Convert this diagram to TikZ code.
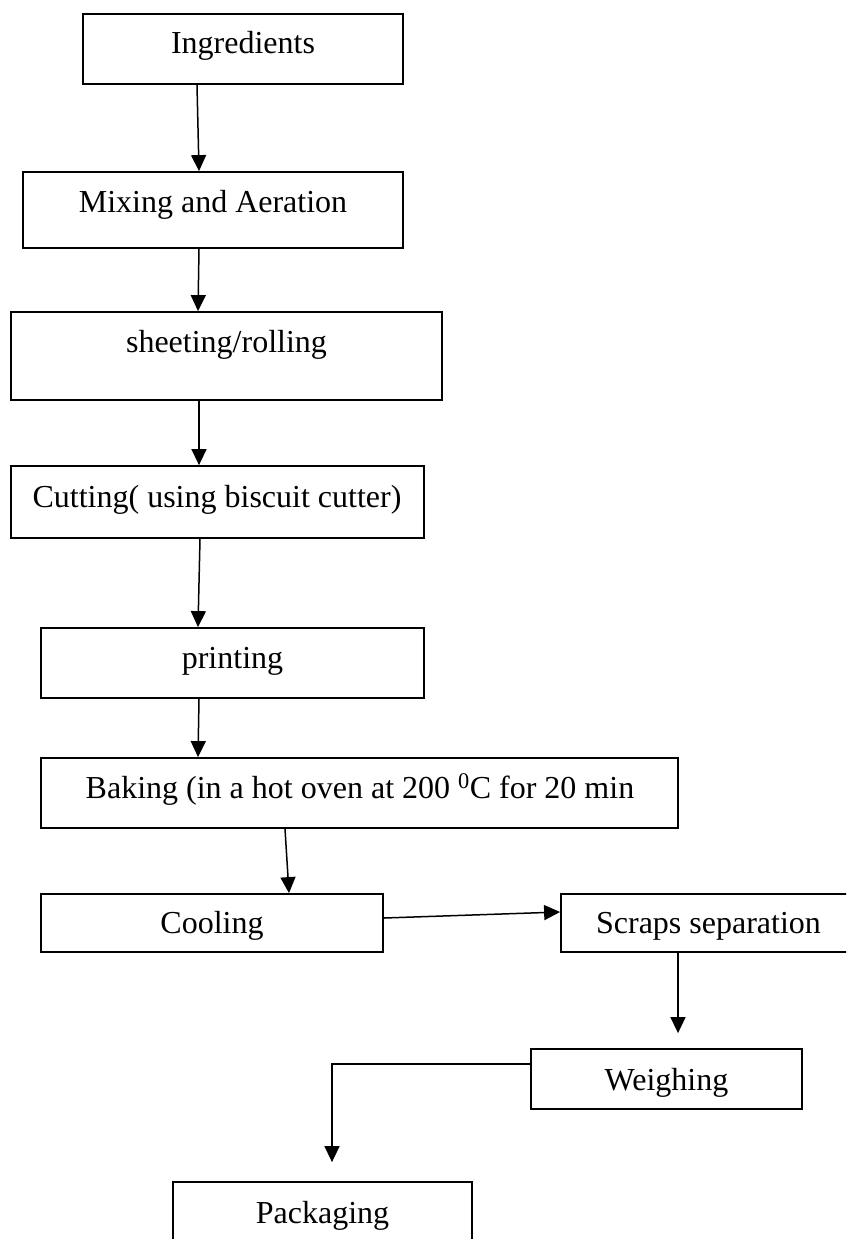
\documentclass[tikz,border=0pt]{standalone}
\usepackage{fontspec}
\setmainfont{Liberation Serif}
\usetikzlibrary{arrows.meta}
\begin{document}
\begin{tikzpicture}[x=1pt,y=-1pt,
  box/.style={draw, line width=1.8pt, inner sep=0pt, rectangle},
  lbl/.style={font=\fontsize{32}{36}\selectfont, inner sep=0pt, anchor=base},
  arr/.style={line width=1.5pt, -{Triangle[length=16pt,width=15pt]}}]
\useasboundingbox (0,0) rectangle (846,1239);
\clip (0,0) rectangle (846,1239);
% boxes
\node[box, minimum width=320pt, minimum height=70pt] (ing) at (243,49) {};
\node[box, minimum width=380pt, minimum height=76pt] (mix) at (213,210) {};
\node[box, minimum width=431pt, minimum height=88pt] (sheet) at (226.5,356) {};
\node[box, minimum width=413pt, minimum height=72pt] (cut) at (217.5,502) {};
\node[box, minimum width=383pt, minimum height=70pt] (print) at (232.5,663) {};
\node[box, minimum width=637pt, minimum height=70pt] (bake) at (359.5,793) {};
\node[box, minimum width=342.5pt, minimum height=58pt] (cool) at (212,923) {};
\node[box, minimum width=295pt, minimum height=58pt] (scraps) at (708.5,923) {};
\node[box, minimum width=271pt, minimum height=60pt] (weigh) at (666.5,1079) {};
\node[box, minimum width=299pt, minimum height=70pt] (pack) at (322.5,1217) {};
% labels
\node[lbl] (ingT) at (243,54) {Ingredients};
\node[lbl] (mixT) at (213,212) {Mixing and Aeration};
\node[lbl] (sheetT) at (226.5,352) {sheeting/rolling};
\node[lbl] (cutT) at (217,507) {Cutting( using biscuit cutter)};
\node[lbl] (printT) at (232.5,668) {printing};
\node[lbl] (bakeT) at (360,798) {Baking (in a hot oven at 200 \textsuperscript{0}C for 20 min};
\node[lbl] (coolT) at (212,933) {Cooling};
\node[lbl] (scrapsT) at (708.5,933) {Scraps separation};
\node[lbl] (weighT) at (666.5,1090) {Weighing};
\node[lbl] (packT) at (322.5,1223) {Packaging};
% connectors
\draw[arr] ([xshift=-46pt]ing.south) -- ([xshift=-14pt]mix.north);
\draw[arr] ([xshift=-14pt]mix.south) -- ([xshift=-28.5pt]sheet.north);
\draw[arr] ([xshift=-27.5pt]sheet.south) -- ([xshift=-18.5pt]cut.north);
\draw[arr] ([xshift=-17.5pt]cut.south) -- ([xshift=-34.5pt]print.north);
\draw[arr] ([xshift=-33.5pt]print.south) -- ([xshift=-161.5pt]bake.north);
\draw[arr] ([xshift=-74.5pt]bake.south) -- ([xshift=77pt]cool.north);
\draw[arr] ([yshift=5pt]cool.east) -- ([yshift=11pt]scraps.west);
\draw[arr] ([xshift=-30.5pt]scraps.south) -- ([xshift=11.5pt,yshift=15pt]weigh.north);
\draw[arr] ([yshift=15pt]weigh.west) -| ([xshift=9.5pt,yshift=19pt]pack.north);
\end{tikzpicture}
\end{document}
